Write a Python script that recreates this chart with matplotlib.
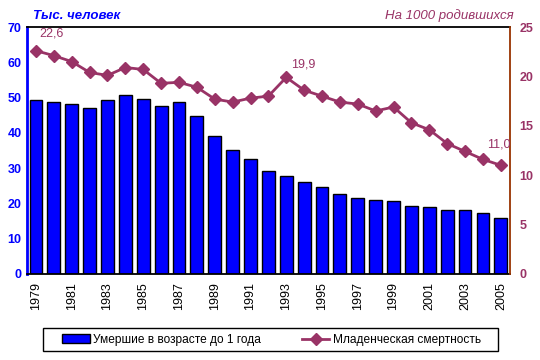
import matplotlib
matplotlib.use("Agg")
import matplotlib.pyplot as plt
from matplotlib.patches import Rectangle
import numpy as np

years = list(range(1979, 2006))
deaths = [49.3, 48.7, 48.2, 47.0, 49.3, 50.7, 49.6, 47.6, 48.7, 44.8, 39.1,
          35.0, 32.5, 29.1, 27.8, 26.0, 24.6, 22.7, 21.4, 20.9, 20.6, 19.2,
          18.9, 18.0, 18.0, 17.3, 15.8]
mortality = [22.6, 22.1, 21.5, 20.4, 20.1, 20.9, 20.7, 19.3, 19.4, 18.9, 17.7,
             17.4, 17.8, 18.0, 19.9, 18.6, 18.0, 17.4, 17.2, 16.5, 16.9, 15.3,
             14.6, 13.2, 12.4, 11.6, 11.0]
point_labels = {1979: "22,6", 1993: "19,9", 2005: "11,0"}
left_label = "Тыс. человек"
right_label = "На 1000 родившихся"
bar_name = "Умершие в возрасте до 1 года"
line_name = "Младенческая смертность"

BLUE = "#0000FF"
MAROON = "#993366"

plt.rcParams['font.family'] = ['Liberation Sans', 'DejaVu Sans']
fig = plt.figure(figsize=(5.4, 3.6), dpi=100)
ax = fig.add_axes([0.05, 0.239, 0.894, 0.686])
x = np.arange(len(years))
bars = ax.bar(x, deaths, width=0.72, color=BLUE, edgecolor="black", linewidth=1.0,
              label=bar_name, zorder=2)
ax.set_xlim(-0.5, len(years) - 0.5)
ax.set_ylim(0, 70)
ax.set_yticks(range(0, 71, 10))
ax.tick_params(axis='y', colors=BLUE, labelsize=9, length=0, pad=4)
for t in ax.get_yticklabels():
    t.set_fontweight('bold')
ax.set_xticks(x)
ax.set_xticklabels([str(y) if y % 2 == 1 else "" for y in years], rotation=90,
                   fontsize=9)
ax.tick_params(axis='x', length=0, pad=6)
ax.spines['left'].set_color(BLUE)
ax.spines['left'].set_linewidth(2)
ax.spines['bottom'].set_color('black')
ax.spines['top'].set_color('black')
ax.spines['bottom'].set_linewidth(1.3)
ax.spines['top'].set_linewidth(1.3)

ax2 = ax.twinx()
line, = ax2.plot(x, mortality, color=MAROON, marker='D', markersize=6, linewidth=2,
                 label=line_name, zorder=3)
ax2.set_ylim(0, 25)
ax2.set_yticks(range(0, 26, 5))
ax2.tick_params(axis='y', colors=MAROON, labelsize=9, length=0, pad=7)
for t in ax2.get_yticklabels():
    t.set_fontweight('bold')
ax2.spines['right'].set_color('#993300')
ax2.spines['right'].set_linewidth(1.3)
ax2.spines['left'].set_visible(False)
ax2.spines['top'].set_visible(False)
ax2.spines['bottom'].set_visible(False)
ax.spines['right'].set_visible(False)

offsets = {1979: (16, 14), 1993: (17, 10), 2005: (-2, 18)}
for i, y in enumerate(years):
    if y in point_labels:
        ax2.annotate(point_labels[y], (x[i], mortality[i]), xytext=offsets[y],
                     textcoords='offset pixels', color=MAROON, fontsize=9,
                     ha='center', va='baseline', annotation_clip=False)

fig.text(0.062, 0.94, left_label, color=BLUE, fontsize=9.5, fontweight='bold',
         fontstyle='italic', ha='left', va='bottom')
fig.text(0.951, 0.94, right_label, color=MAROON, fontsize=9.5,
         fontstyle='italic', ha='right', va='bottom')

leg = fig.legend(handles=[bars, line], labels=[bar_name, line_name], ncol=2,
                 loc='center', bbox_to_anchor=(0.503, 0.056), fontsize=8.6,
                 frameon=False, handlelength=2.3, columnspacing=3.4,
                 borderpad=0.45, handletextpad=0.3, borderaxespad=0)
fig.patches.append(Rectangle((43 / 540, 1 - 351 / 360), 455 / 540, 23 / 360,
                             transform=fig.transFigure, fill=False,
                             edgecolor='black', linewidth=1))

fig.savefig("out.png", dpi=100)
